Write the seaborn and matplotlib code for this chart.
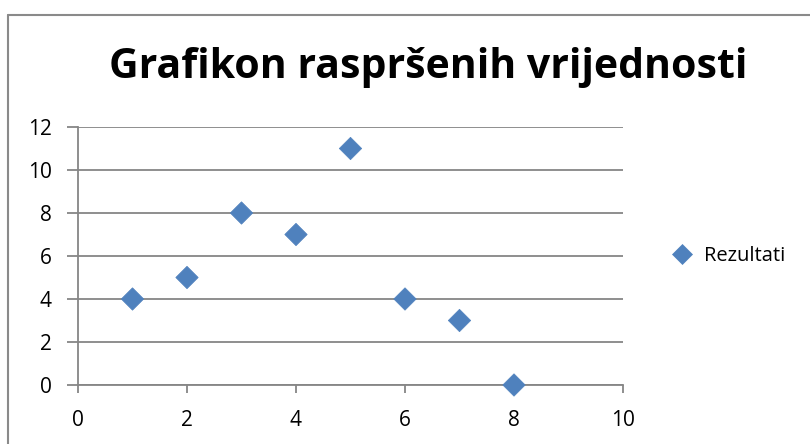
import matplotlib
matplotlib.use('Agg')
import matplotlib.pyplot as plt
import seaborn as sns
import pandas as pd
from matplotlib.lines import Line2D

# chart data
x_vals = [1, 2, 3, 4, 5, 6, 7, 8]
y_vals = [4, 5, 8, 7, 11, 4, 3, 0]
series_name = 'Rezultati'
title = 'Grafikon raspršenih vrijednosti'
x_ticks = [0, 2, 4, 6, 8, 10]
y_ticks = [0, 2, 4, 6, 8, 10, 12]

df = pd.DataFrame({'x': x_vals, 'y': y_vals, 'serija': series_name})

sns.set_style('white')
plt.rcParams['font.family'] = ['Open Sans', 'DejaVu Sans']
plt.rcParams['text.color'] = 'black'

grid_col = '#868686'
fig = plt.figure(figsize=(8.1, 4.44), dpi=100)
ax = fig.add_axes([78 / 810, 1 - 385 / 444, (623 - 78) / 810, (385 - 127) / 444])

sns.scatterplot(data=df, x='x', y='y', hue='serija', palette=['#4F81BD'],
                marker='D', s=130, edgecolor='#4F81BD', linewidth=0.5,
                ax=ax, zorder=3, clip_on=False)

ax.set_xlim(0, 10)
ax.set_ylim(0, 12)
ax.set_xticks(x_ticks)
ax.set_yticks(y_ticks)
ax.set_xlabel('')
ax.set_ylabel('')
ax.yaxis.grid(True, color=grid_col, linewidth=1.3)
ax.xaxis.grid(False)
for side in ['top', 'right']:
    ax.spines[side].set_visible(False)
for side in ['left', 'bottom']:
    ax.spines[side].set_color(grid_col)
    ax.spines[side].set_linewidth(1.3)
ax.tick_params(axis='y', length=8, width=1.3, color=grid_col, labelsize=15, pad=11,
               left=True, labelcolor='black')
ax.tick_params(axis='x', length=6, width=1.3, color=grid_col, labelsize=15, pad=12,
               bottom=True, direction='out', labelcolor='black')
ax.set_axisbelow(True)

fig.suptitle(title, x=428 / 810, y=1 - 67 / 444, va='center',
             fontsize=29.5, fontweight='bold', color='black')

leg = ax.legend(loc='center left', bbox_to_anchor=(1.038, 0.5), frameon=False,
                fontsize=14.5, handletextpad=0.1, markerscale=0.9)
for t in leg.get_texts():
    t.set_color('black')

# outer chart border (only top and left edges are inside the image)
fig.add_artist(Line2D([8 / 810, 8 / 810], [0, 1 - 15 / 444], color='#8a8a8a',
                      linewidth=1.5, transform=fig.transFigure))
fig.add_artist(Line2D([8 / 810, 1], [1 - 15 / 444, 1 - 15 / 444], color='#8a8a8a',
                      linewidth=1.5, transform=fig.transFigure))

fig.savefig('out.png', dpi=100)
